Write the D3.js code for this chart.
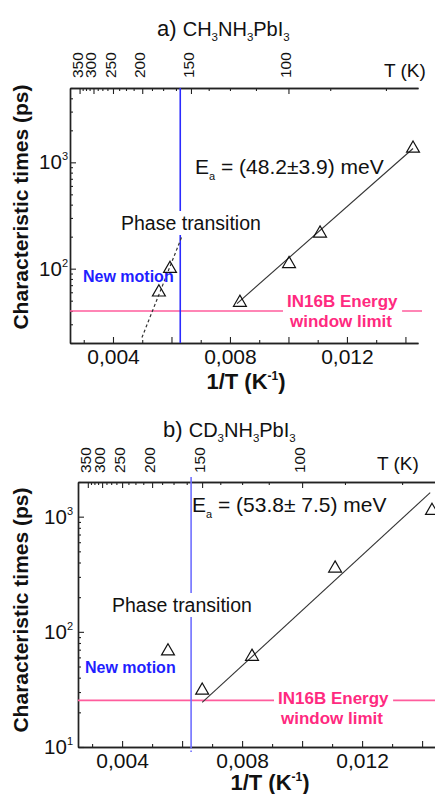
<!DOCTYPE html>
<html>
<head>
<meta charset="utf-8">
<script src="https://cdn.jsdelivr.net/npm/d3@7"></script>
<style>
body { margin: 0; background: #fff; }
svg { font-family: "Liberation Sans", Arial, sans-serif; display: block; }
</style>
</head>
<body>
<svg id="container" width="435" height="794"></svg>
<script>
// panel a) CH3NH3PbI3
var invTA = [0.00557, 0.00595, 0.00834, 0.01002, 0.01108, 0.01426];
var tauA = [60, 100, 48, 111, 215, 1350];
var fitA = [[0.00824, 47], [0.01426, 1350]];
var dashA = [[0.00499, 22.5], [0.00636, 202]];
var limitA = 40;
var eaA = "(48.2\u00b13.9) meV";

// panel b) CD3NH3PbI3
var invTB = [0.00553, 0.00667, 0.00833, 0.0111, 0.01433];
var tauB = [68, 31, 61, 356, 1128];
var fitB = [[0.00667, 24.4], [0.01427, 1617]];
var limitB = 25.4;
var eaB = "(53.8\u00b1 7.5) meV";

var transitionInvT = 0.0063;
var xDomain = [0.00253, 0.01443];
var xTickLabels = [0.004, 0.008, 0.012];
var tTickLabels = [350, 300, 250, 200, 150, 100];
var tMinorStep = 12.5;

var pink = "#ff2a7f";
var pinkLine = "#ff5c9d";

var panels = [
    {
        title: "a)", formula: [["CH", 0], ["3", 1], ["NH", 0], ["3", 1], ["PbI", 0], ["3", 1]],
        left: 70, right: 418, top: 88, bottom: 343,
        yDomain: [20, 5000], invT: invTA, tau: tauA, fit: fitA, dash: dashA,
        limit: limitA, limitEnd: 422, ea: eaA, blue: "#2b2bff", blueTop: 88, blueBottom: 343,
        titleX: 157, titleY: 36, tLabelY: 78, tUnitX: 384, tUnitY: 77,
        eaX: 195, eaY: 174, phaseX: 121, phaseY: 230, motionX: 83, motionY: 282,
        limitX: 287, limitY: 307, xLabelX: 246, xLabelY: 389, yLabelY: 207, yLabelGap: 2
    },
    {
        title: "b)", formula: [["CD", 0], ["3", 1], ["NH", 0], ["3", 1], ["PbI", 0], ["3", 1]],
        left: 78, right: 435, top: 482, bottom: 747,
        yDomain: [10, 2000], invT: invTB, tau: tauB, fit: fitB, dash: null,
        limit: limitB, limitEnd: 435, ea: eaB, blue: "#7070ff", blueTop: 477, blueBottom: 752,
        titleX: 163, titleY: 437, tLabelY: 473, tUnitX: 377, tUnitY: 470,
        eaX: 192, eaY: 512, phaseX: 112, phaseY: 612, motionX: 85, motionY: 673,
        limitX: 278, limitY: 704, xLabelX: 270, xLabelY: 790, yLabelY: 610, yLabelGap: 5
    }
];

function commaFormat(v)
{
    return d3.format(".3f")(v).replace(".", ",");
}

// put a white box behind a text so the lines below it are cut
function whiteBehind(g, textNode, pad)
{
    var b = textNode.node().getBBox();
    g.insert("rect", function() { return textNode.node(); })
        .attr("x", b.x - pad).attr("y", b.y - pad / 2)
        .attr("width", b.width + 2 * pad).attr("height", b.height + pad)
        .attr("fill", "#fff");
}

function styleAxis(sel)
{
    sel.select(".domain").attr("stroke", "#222").attr("stroke-width", 1.4);
    sel.selectAll(".tick line").attr("stroke", "#222").attr("stroke-width", 1.1);
    sel.selectAll(".tick text").attr("fill", "#111").attr("font-size", 21)
        .attr("font-family", "Liberation Sans, Arial, sans-serif");
}

function drawPanel(svg, p)
{
    var x = d3.scaleLinear().domain(xDomain).range([p.left, p.right]);
    var y = d3.scaleLog().domain(p.yDomain).range([p.bottom, p.top]);
    var g = svg.append("g");

    // bottom axis: minor every 0.001, major every 0.002, labels every 0.004
    var minorX = d3.range(3, 15).map(d => d / 1000).filter(d => d < xDomain[1]);
    g.append("g").attr("transform", "translate(0," + p.bottom + ")")
        .call(d3.axisBottom(x).tickValues(minorX.filter(d => Math.round(d * 1000) % 2 == 1))
            .tickSize(-3).tickSizeOuter(0).tickFormat(""))
        .call(styleAxis);
    g.append("g").attr("transform", "translate(0," + p.bottom + ")")
        .call(d3.axisBottom(x).tickValues(minorX.filter(d => Math.round(d * 1000) % 2 == 0))
            .tickSize(-6).tickSizeOuter(0).tickPadding(6)
            .tickFormat(d => xTickLabels.some(v => Math.abs(v - d) < 1e-6) ? commaFormat(d) : ""))
        .call(styleAxis);

    // left axis: log, minor ticks plus decades
    var decades = y.ticks().filter(d => Math.abs(Math.log10(d) - Math.round(Math.log10(d))) < 1e-9);
    g.append("g").attr("transform", "translate(" + p.left + ",0)")
        .call(d3.axisLeft(y).tickValues(y.ticks().filter(d => decades.indexOf(d) < 0))
            .tickSize(-3).tickSizeOuter(0).tickFormat(""))
        .call(styleAxis);
    g.append("g").attr("transform", "translate(" + p.left + ",0)")
        .call(d3.axisLeft(y).tickValues(decades).tickSize(-6).tickSizeOuter(0).tickFormat(""))
        .call(styleAxis);
    decades.forEach(function(d)
    {
        var t = g.append("text").attr("x", p.left - p.yLabelGap).attr("y", y(d) + 7)
            .attr("text-anchor", "end").attr("font-size", 20.5).attr("fill", "#111");
        t.append("tspan").text("10");
        t.append("tspan").attr("font-size", 11).attr("dy", -9).text(Math.round(Math.log10(d)));
    });

    // top axis in T (K)
    var majorT = tTickLabels.map(t => 1 / t);
    var minorT = d3.range(tMinorStep * 5, 351, tMinorStep)
        .filter(t => tTickLabels.indexOf(t) < 0 && 1 / t > xDomain[0] && 1 / t < xDomain[1])
        .map(t => 1 / t);
    g.append("g").attr("transform", "translate(0," + p.top + ")")
        .call(d3.axisTop(x).tickValues(minorT).tickSize(-3).tickSizeOuter(0).tickFormat(""))
        .call(styleAxis);
    g.append("g").attr("transform", "translate(0," + p.top + ")")
        .call(d3.axisTop(x).tickValues(majorT).tickSize(-6).tickSizeOuter(0).tickFormat(""))
        .call(styleAxis);
    g.selectAll(".tlabel").data(tTickLabels).join("text")
        .attr("class", "tlabel")
        .attr("transform", d => "translate(" + (x(1 / d) + 3) + "," + p.tLabelY + ") rotate(-90)")
        .attr("font-size", 15.5).attr("fill", "#111").text(d => d);
    g.append("text").attr("x", p.tUnitX).attr("y", p.tUnitY)
        .attr("font-size", 19).attr("fill", "#111").text("T (K)");

    // title
    var title = g.append("text").attr("x", p.titleX).attr("y", p.titleY).attr("fill", "#111");
    title.append("tspan").attr("font-size", 22).text(p.title + " ");
    p.formula.forEach(function(f, i)
    {
        var prev = i > 0 ? p.formula[i - 1][1] : 0;
        title.append("tspan").attr("font-size", f[1] ? 11.5 : 20)
            .attr("dy", f[1] == prev ? 0 : (f[1] ? 5 : -5)).text(f[0]);
    });

    // energy window limit line
    g.append("line").attr("x1", p.left).attr("x2", p.limitEnd)
        .attr("y1", y(p.limit)).attr("y2", y(p.limit))
        .attr("stroke", pinkLine).attr("stroke-width", 1.6);

    // phase transition line
    g.append("line").attr("x1", x(transitionInvT)).attr("x2", x(transitionInvT))
        .attr("y1", p.blueTop).attr("y2", p.bottom)
        .attr("stroke", p.blue).attr("stroke-width", 1.6);
    if (p.blueBottom > p.bottom)
    {
        g.append("line").attr("x1", x(transitionInvT)).attr("x2", x(transitionInvT))
            .attr("y1", p.bottom).attr("y2", p.blueBottom)
            .attr("stroke", p.blue).attr("stroke-width", 1.6).attr("stroke-dasharray", "1.5,2");
    }

    var line = d3.line().x(d => x(d[0])).y(d => y(d[1]));
    g.append("path").attr("d", line(p.fit)).attr("fill", "none")
        .attr("stroke", "#333").attr("stroke-width", 1.1);
    if (p.dash)
    {
        g.append("path").attr("d", line(p.dash)).attr("fill", "none")
            .attr("stroke", "#333").attr("stroke-width", 1.2).attr("stroke-dasharray", "3,2.5");
    }

    // points
    var tri = d3.symbol(d3.symbolTriangle, 72);
    g.selectAll(".pt").data(p.invT).join("path")
        .attr("class", "pt")
        .attr("d", tri)
        .attr("transform", (d, i) => "translate(" + x(d) + "," + y(p.tau[i]) + ")")
        .attr("fill", "none").attr("stroke", "#111").attr("stroke-width", 1.2);

    // annotations
    var ea = g.append("text").attr("x", p.eaX).attr("y", p.eaY).attr("font-size", 21).attr("fill", "#111");
    ea.append("tspan").text("E");
    ea.append("tspan").attr("font-size", 11).attr("dy", 6).text("a");
    ea.append("tspan").attr("dy", -6).text(" = " + p.ea);

    var phase = g.append("text").attr("x", p.phaseX).attr("y", p.phaseY)
        .attr("font-size", 19.5).attr("fill", "#111").text("Phase transition");
    whiteBehind(g, phase, 2);

    g.append("text").attr("x", p.motionX).attr("y", p.motionY)
        .attr("font-size", 16).attr("font-weight", "bold").attr("fill", "#1f1fff").text("New motion");

    var lim = g.append("text").attr("x", p.limitX).attr("y", p.limitY)
        .attr("font-size", 17).attr("font-weight", "bold").attr("fill", pink);
    lim.append("tspan").attr("x", p.limitX).text("IN16B Energy");
    lim.append("tspan").attr("x", p.limitX + 3).attr("dy", 20).text("window limit");
    whiteBehind(g, lim, 4);

    // axis titles
    var xl = g.append("text").attr("x", p.xLabelX).attr("y", p.xLabelY)
        .attr("text-anchor", "middle").attr("font-size", 22).attr("font-weight", "bold").attr("fill", "#111");
    xl.append("tspan").text("1/T (K");
    xl.append("tspan").attr("font-size", 12).attr("dy", -9).text("-1");
    xl.append("tspan").attr("dy", 9).text(")");

    g.append("text").attr("transform", "translate(28," + p.yLabelY + ") rotate(-90)")
        .attr("text-anchor", "middle").attr("font-size", 21).attr("font-weight", "bold")
        .attr("fill", "#111").text("Characteristic times (ps)");
}

var svg = d3.select("#container");
panels.forEach(p => drawPanel(svg, p));
</script>
</body>
</html>
